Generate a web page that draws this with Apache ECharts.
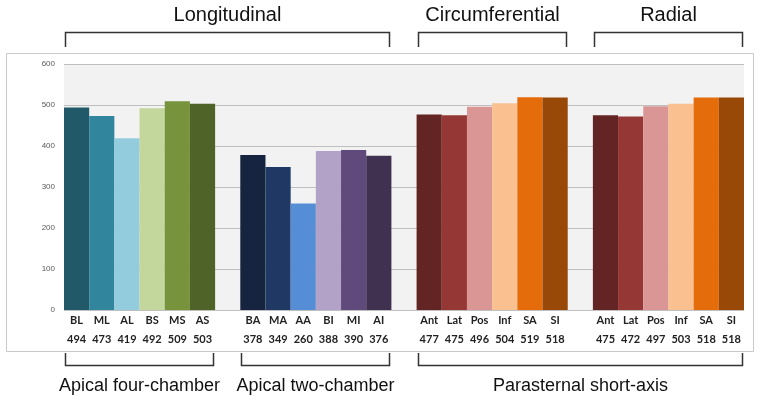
<!DOCTYPE html>
<html><head><meta charset="utf-8">
<script src="https://cdn.jsdelivr.net/npm/echarts@6/dist/echarts.min.js"></script>
<style>html,body{margin:0;padding:0;background:#fff;}#c{width:761px;height:403px;}</style>
</head><body><div id="c"></div>
<script>
// ---- data ----
const a4cNames = ['BL','ML','AL','BS','MS','AS'];
const a4cValues = [494,473,419,492,509,503];
const a2cNames = ['BA','MA','AA','BI','MI','AI'];
const a2cValues = [378,349,260,388,390,376];
const circNames = ['Ant','Lat','Pos','Inf','SA','SI'];
const circValues = [477,475,496,504,519,518];
const radNames = ['Ant','Lat','Pos','Inf','SA','SI'];
const radValues = [475,472,497,503,518,518];
const yTicks = [0,100,200,300,400,500,600];
const topGroups = ['Longitudinal','Circumferential','Radial'];
const bottomGroups = ['Apical four-chamber','Apical two-chamber','Parasternal short-axis'];

const a4cColors = ['#215968','#31859c','#93cddd','#c3d69b','#77933c','#4f6228'];
const a2cColors = ['#17243f','#1f3864','#558ed5','#b3a2c7','#604a7b','#403151'];
const pssColors = ['#632523','#953735','#d99694','#fac090','#e46c0a','#984807'];

// build category slots (with one empty slot between groups)
const groups = [
  {names:a4cNames, values:a4cValues, colors:a4cColors},
  {names:a2cNames, values:a2cValues, colors:a2cColors},
  {names:circNames, values:circValues, colors:pssColors},
  {names:radNames, values:radValues, colors:pssColors}
];
const cats = [], labelMap = {}, data = [], groupStart = [], groupEnd = [];
groups.forEach((g, gi) => {
  if (gi > 0) { const k = 'gap' + gi; cats.push(k); labelMap[k] = null; data.push('-'); }
  groupStart.push(cats.length);
  g.names.forEach((n, i) => {
    const k = 'c' + cats.length;
    cats.push(k);
    labelMap[k] = {name:n, value:g.values[i]};
    data.push({value:g.values[i], itemStyle:{color:g.colors[i]}});
  });
  groupEnd.push(cats.length - 1);
});

const chart = echarts.init(document.getElementById('c'), null, {renderer:'canvas'});
const option = {
  animation:false,
  backgroundColor:'#fff',
  grid:{left:64, right:17, top:64, bottom:93, show:true, backgroundColor:'#f2f2f2', borderWidth:0},
  xAxis:{
    type:'category', data:cats,
    axisLine:{show:false}, axisTick:{show:false},
    axisLabel:{
      interval:0, margin:1,
      formatter:(v)=>{ const l = labelMap[v]; return l ? '{n|' + l.name + '}\n{v|' + l.value + '}' : ''; },
      rich:{
        n:{fontFamily:'Lato', fontWeight:'bold', fontSize:11, color:'#222', lineHeight:19},
        v:{fontFamily:'Lato', fontWeight:'bold', fontSize:11, color:'#222', lineHeight:19}
      }
    }
  },
  yAxis:{
    type:'value', min:yTicks[0], max:yTicks[yTicks.length-1], interval:yTicks[1]-yTicks[0],
    axisLine:{show:false}, axisTick:{show:false},
    axisLabel:{fontSize:8, color:'#595959', fontFamily:'Liberation Sans', margin:9},
    splitLine:{lineStyle:{color:'#bfbfbf', width:1}}
  },
  series:[{type:'bar', data:data, barCategoryGap:'0%', barGap:'0%'}]
};
chart.setOption(option);

// brackets and group titles, positioned from axis pixels
const band = chart.convertToPixel({xAxisIndex:0}, cats[1]) - chart.convertToPixel({xAxisIndex:0}, cats[0]);
function leftEdge(idx){ return chart.convertToPixel({xAxisIndex:0}, cats[idx]) - band/2; }
function rightEdge(idx){ return chart.convertToPixel({xAxisIndex:0}, cats[idx]) + band/2; }
const lineStyle = {stroke:'#333', lineWidth:1.5, fill:null};
const els = [];
// outer chart frame
els.push({type:'rect', z:-10, silent:true, shape:{x:6.5, y:53.5, width:747, height:298}, style:{fill:null, stroke:'#c8c8c8', lineWidth:1}});
// top brackets
const topSpans = [[groupStart[0], groupEnd[1]], [groupStart[2], groupEnd[2]], [groupStart[3], groupEnd[3]]];
topSpans.forEach((s, i) => {
  const x1 = Math.round(leftEdge(s[0])) + 1.5, x2 = Math.round(rightEdge(s[1])) - 1.5;
  els.push({type:'polyline', shape:{points:[[x1,47],[x1,32.5],[x2,32.5],[x2,47]]}, style:lineStyle});
  els.push({type:'text', x:(x1+x2)/2, y:15, style:{text:topGroups[i], fontFamily:'Liberation Sans', fontSize:20, fill:'#111', align:'center', verticalAlign:'middle'}});
});
// bottom brackets
const botSpans = [[groupStart[0], groupEnd[0]], [groupStart[1], groupEnd[1]], [groupStart[2], groupEnd[3]]];
botSpans.forEach((s, i) => {
  const x1 = Math.round(leftEdge(s[0])) + 1.5, x2 = Math.round(rightEdge(s[1])) - 1.5;
  els.push({type:'polyline', shape:{points:[[x1,353],[x1,365.5],[x2,365.5],[x2,353]]}, style:lineStyle});
  els.push({type:'text', x:(x1+x2)/2, y:386, style:{text:bottomGroups[i], fontFamily:'Liberation Sans', fontSize:18, fill:'#111', align:'center', verticalAlign:'middle'}});
});
chart.setOption({graphic:{elements:els}});
</script>
</body></html>
